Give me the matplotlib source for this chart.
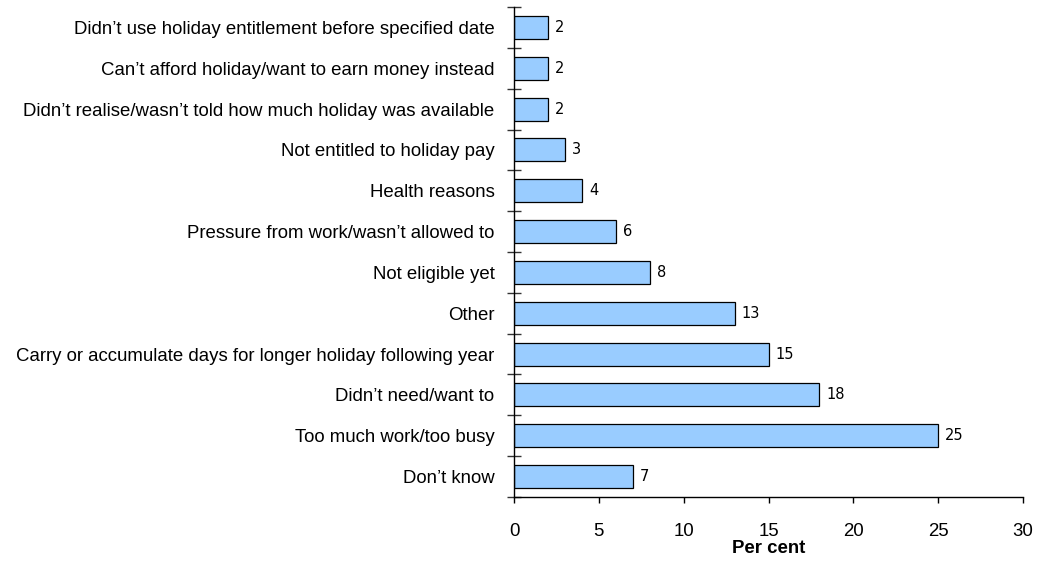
import numpy as np
import matplotlib.pyplot as plt

# categories from bottom to top
reasons = [
    "Don\u2019t know",
    "Too much work/too busy",
    "Didn\u2019t need/want to",
    "Carry or accumulate days for longer holiday following year",
    "Other",
    "Not eligible yet",
    "Pressure from work/wasn\u2019t allowed to",
    "Health reasons",
    "Not entitled to holiday pay",
    "Didn\u2019t realise/wasn\u2019t told how much holiday was available",
    "Can\u2019t afford holiday/want to earn money instead",
    "Didn\u2019t use holiday entitlement before specified date",
]
percent = [7, 25, 18, 15, 13, 8, 6, 4, 3, 2, 2, 2]
xticks = [0, 5, 10, 15, 20, 25, 30]

plt.rcParams['font.family'] = ['Liberation Sans', 'DejaVu Sans']

fig = plt.figure(figsize=(10.41, 5.61), dpi=100)
ax = fig.add_axes([0.4938, 0.1141, 0.4889, 0.8734])

y = np.arange(len(reasons))
ax.barh(y, percent, height=0.56, color="#99CCFF", edgecolor="black", linewidth=0.9)

for yi, v in zip(y, percent):
    ax.text(v + 0.42, yi, str(v), va="center", ha="left", fontsize=10.5,
            family=["DejaVu Sans"])

ax.set_xlim(0, 30)
ax.set_ylim(-0.5, len(reasons) - 0.5)
ax.set_xticks(xticks)
ax.set_xticklabels([str(t) for t in xticks], fontsize=13.4)
ax.tick_params(axis="x", direction="out", length=4.5, width=1, pad=14)

ax.set_yticks(y)
ax.set_yticklabels(reasons, fontsize=13.4)
ax.tick_params(axis="y", which="major", length=0, pad=14)
ax.set_yticks(np.arange(-0.5, len(reasons), 1.0), minor=True)
ax.tick_params(axis="y", which="minor", direction="inout", length=10, width=1, color="#333333")

for s in ["top", "right"]:
    ax.spines[s].set_visible(False)
ax.spines["left"].set_linewidth(1)
ax.spines["bottom"].set_linewidth(1)

ax.set_xlabel("Per cent", fontsize=13.4, fontweight="bold", labelpad=0)

fig.savefig("out.png", dpi=100)
